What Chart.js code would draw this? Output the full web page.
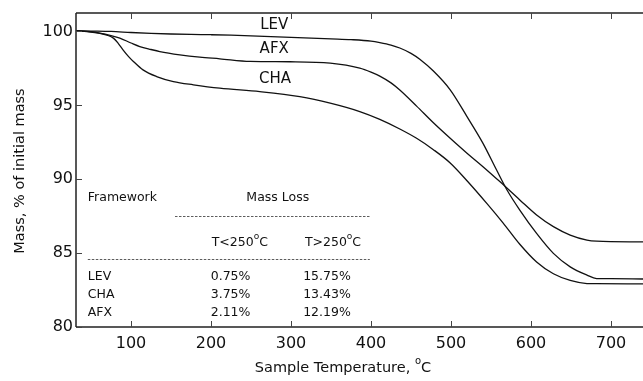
<!DOCTYPE html>
<html lang="en">
<head>
<meta charset="UTF-8">
<title>TGA mass loss</title>
<style>
    body { margin: 0; background: #fff; }
    #wrap { width: 643px; height: 381px; }
</style>
<script src="https://cdn.jsdelivr.net/npm/chart.js"></script>
</head>
<body>
<div id="wrap"><canvas id="tga"></canvas></div>
<script>
// values (temperature in C, mass in % of initial mass)
var levTemp = [32, 50, 75, 100, 125, 150, 175, 200, 225, 250, 300, 350, 375, 400, 411, 425, 436, 450, 461, 478, 499, 520, 540, 557, 570, 586, 607, 628, 649, 670, 682, 700, 740];
var levMass = [100.05, 100.03, 100.0, 99.93, 99.87, 99.83, 99.8, 99.78, 99.75, 99.7, 99.6, 99.5, 99.45, 99.35, 99.25, 99.08, 98.88, 98.52, 98.12, 97.32, 96.05, 94.24, 92.43, 90.62, 89.27, 87.91, 86.33, 84.98, 84.07, 83.51, 83.28, 83.27, 83.25];

var afxTemp = [32, 50, 61, 75, 86, 100, 111, 125, 136, 161, 186, 211, 249, 299, 349, 386, 400, 411, 425, 436, 457, 478, 499, 520, 540, 561, 586, 607, 628, 649, 670, 682, 740];
var afxMass = [100.05, 99.98, 99.89, 99.72, 99.55, 99.22, 98.98, 98.78, 98.64, 98.42, 98.26, 98.15, 97.97, 97.95, 97.86, 97.52, 97.25, 96.98, 96.52, 96.04, 94.95, 93.82, 92.77, 91.76, 90.85, 89.84, 88.6, 87.58, 86.79, 86.22, 85.88, 85.81, 85.76];

var chaTemp = [32, 50, 61, 70, 78, 84, 90, 97, 103, 115, 132, 153, 178, 211, 261, 311, 349, 386, 411, 436, 457, 478, 499, 520, 545, 565, 586, 607, 628, 649, 670, 682, 740];
var chaMass = [100.05, 99.95, 99.87, 99.75, 99.55, 99.2, 98.76, 98.3, 97.97, 97.4, 96.95, 96.61, 96.39, 96.16, 95.93, 95.59, 95.15, 94.58, 94.05, 93.4, 92.77, 92.0, 91.1, 89.9, 88.35, 87.05, 85.6, 84.4, 83.6, 83.15, 82.94, 82.93, 82.92];

var xTicks = [100, 200, 300, 400, 500, 600, 700];
var yTicks = [80, 85, 90, 95, 100];

// curve labels: [text, temperature, mass]
var curveLabels = [['LEV', 279, 100.45], ['AFX', 279, 98.83], ['CHA', 280, 96.8]];

// inset table
var tableRows = ['LEV', 'CHA', 'AFX'];
var lossBelow = ['0.75%', '3.75%', '2.11%'];
var lossAbove = ['15.75%', '13.43%', '12.19%'];

var FONT = '"DejaVu Sans", Verdana, sans-serif';

function pts(t, m) {
    return t.map(function (v, i) { return { x: v, y: m[i] }; });
}

function line(data) {
    return {
        data: data,
        borderColor: '#111',
        borderWidth: 1.3,
        pointRadius: 0,
        fill: false,
        cubicInterpolationMode: 'monotone'
    };
}

// text with a raised small "o" for degrees between before and after
function degText(ctx, before, after, x, y, size, align) {
    ctx.font = size + 'px ' + FONT;
    var w1 = ctx.measureText(before).width;
    var w3 = ctx.measureText(after).width;
    ctx.font = Math.round(size * 0.7) + 'px ' + FONT;
    var w2 = ctx.measureText('o').width;
    var total = w1 + w2 + w3;
    var x0 = align === 'center' ? x - total / 2 : x;
    ctx.textAlign = 'left';
    ctx.textBaseline = 'middle';
    ctx.font = size + 'px ' + FONT;
    ctx.fillText(before, x0, y);
    ctx.font = Math.round(size * 0.7) + 'px ' + FONT;
    ctx.fillText('o', x0 + w1, y - size * 0.45);
    ctx.font = size + 'px ' + FONT;
    ctx.fillText(after, x0 + w1 + w2, y);
}

var decor = {
    id: 'decor',
    afterDatasetsDraw: function (chart) {
        var ctx = chart.ctx;
        var a = chart.chartArea;
        var xs = chart.scales.x, ys = chart.scales.y;
        ctx.save();

        // axes: left, bottom, top
        ctx.strokeStyle = '#222';
        ctx.lineWidth = 1.5;
        ctx.beginPath();
        ctx.moveTo(a.left, a.top); ctx.lineTo(a.left, a.bottom);
        ctx.moveTo(a.left, a.bottom); ctx.lineTo(a.right, a.bottom);
        ctx.moveTo(a.left, a.top); ctx.lineTo(a.right, a.top);
        ctx.stroke();

        // inward tick marks
        ctx.lineWidth = 1;
        ctx.strokeStyle = '#444';
        ctx.beginPath();
        xTicks.forEach(function (t) {
            var px = Math.round(xs.getPixelForValue(t)) + 0.5;
            ctx.moveTo(px, a.bottom); ctx.lineTo(px, a.bottom - 6);
            ctx.moveTo(px, a.top); ctx.lineTo(px, a.top + 6);
        });
        yTicks.forEach(function (t) {
            var py = Math.round(ys.getPixelForValue(t)) + 0.5;
            ctx.moveTo(a.left, py); ctx.lineTo(a.left + 6, py);
        });
        ctx.stroke();

        ctx.fillStyle = '#111';

        // curve labels
        ctx.font = '15px ' + FONT;
        ctx.textAlign = 'center';
        ctx.textBaseline = 'middle';
        curveLabels.forEach(function (l) {
            ctx.fillText(l[0], xs.getPixelForValue(l[1]), ys.getPixelForValue(l[2]));
        });

        // inset table
        var X = function (v) { return xs.getPixelForValue(v); };
        var Y = function (v) { return ys.getPixelForValue(v); };
        ctx.font = '12.5px ' + FONT;
        ctx.textAlign = 'left';
        ctx.fillText('Framework', X(46), Y(88.72));
        ctx.textAlign = 'center';
        ctx.fillText('Mass Loss', X(283.5), Y(88.72));
        degText(ctx, 'T<250', 'C', X(236), Y(85.72), 12.5, 'center');
        degText(ctx, 'T>250', 'C', X(352.5), Y(85.72), 12.5, 'center');

        ctx.strokeStyle = '#333';
        ctx.lineWidth = 0.8;
        ctx.setLineDash([2.5, 1.5]);
        ctx.beginPath();
        var y1 = Math.round(Y(87.52)) + 0.5, y2 = Math.round(Y(84.57)) + 0.5;
        ctx.moveTo(X(155), y1); ctx.lineTo(X(398.5), y1);
        ctx.moveTo(X(46), y2); ctx.lineTo(X(398.5), y2);
        ctx.stroke();
        ctx.setLineDash([]);

        var rowY = [83.39, 82.15, 80.95];
        ctx.font = '12.5px ' + FONT;
        tableRows.forEach(function (r, i) {
            ctx.textAlign = 'left';
            ctx.fillText(r, X(46), Y(rowY[i]));
            ctx.textAlign = 'center';
            ctx.fillText(lossBelow[i], X(224.5), Y(rowY[i]));
            ctx.fillText(lossAbove[i], X(345), Y(rowY[i]));
        });

        // axis titles
        degText(ctx, 'Sample Temperature, ', 'C', 343, 368, 14.5, 'center');
        ctx.save();
        ctx.translate(20, 171);
        ctx.rotate(-Math.PI / 2);
        ctx.font = '14.5px ' + FONT;
        ctx.textAlign = 'center';
        ctx.textBaseline = 'middle';
        ctx.fillText('Mass, % of initial mass', 0, 0);
        ctx.restore();

        ctx.restore();
    }
};

new Chart(document.getElementById('tga'), {
    type: 'line',
    data: {
        datasets: [
            line(pts(levTemp, levMass)),
            line(pts(afxTemp, afxMass)),
            line(pts(chaTemp, chaMass))
        ]
    },
    options: {
        responsive: true,
        maintainAspectRatio: false,
        animation: false,
        layout: { padding: { top: 13, right: 0, left: 0, bottom: 0 } },
        plugins: { legend: { display: false }, tooltip: { enabled: false } },
        scales: {
            x: {
                type: 'linear',
                min: 31.25,
                max: 740,
                grid: { display: false, drawTicks: false },
                border: { display: false },
                afterBuildTicks: function (s) { s.ticks = xTicks.map(function (v) { return { value: v }; }); },
                afterFit: function (s) { s.height = 54; s.paddingLeft = 0; s.paddingRight = 0; },
                ticks: { color: '#111', padding: 7, maxRotation: 0, font: { family: FONT, size: 16 } }
            },
            y: {
                min: 80,
                max: 101.25,
                grid: { display: false, drawTicks: false },
                border: { display: false },
                afterBuildTicks: function (s) { s.ticks = yTicks.map(function (v) { return { value: v }; }); },
                afterFit: function (s) { s.width = 76; s.paddingTop = 0; s.paddingBottom = 0; },
                ticks: { color: '#111', padding: 3, font: { family: FONT, size: 16 } }
            }
        }
    },
    plugins: [decor]
});
</script>
</body>
</html>
